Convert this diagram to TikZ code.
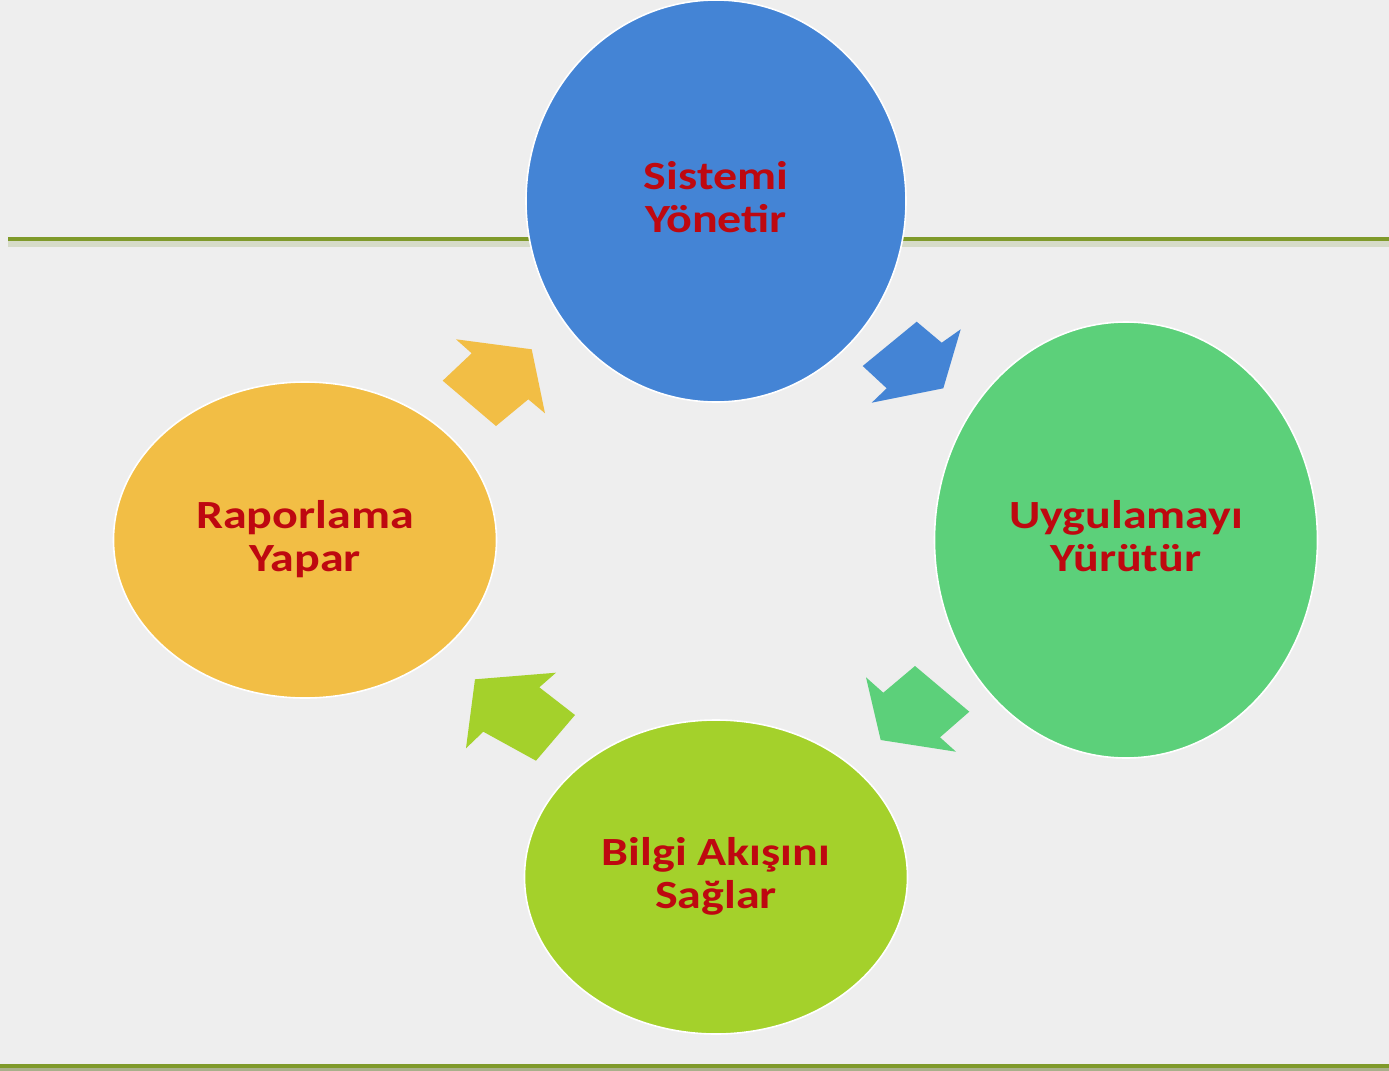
\documentclass[tikz,border=0pt]{standalone}
\usepackage{fontspec}
\newfontfamily\lblfont{Carlito}[FakeStretch=1.2]
\usetikzlibrary{shapes.geometric}
\definecolor{bgc}{RGB}{238,238,238}
\definecolor{linec}{RGB}{127,154,42}
\definecolor{shadc}{RGB}{214,219,200}
\definecolor{shadb}{RGB}{168,176,138}
\definecolor{bluec}{RGB}{68,132,213}
\definecolor{greenc}{RGB}{92,208,122}
\definecolor{limec}{RGB}{164,209,43}
\definecolor{orangec}{RGB}{242,190,69}
\definecolor{txtc}{RGB}{190,8,16}
\tikzset{
  bubble/.style={ellipse, inner sep=0pt, outer sep=0pt, draw=white, line width=0.8pt,
    align=center, text=txtc, text depth=4.5pt, font=\lblfont\bfseries\fontsize{20}{21.5}\selectfont},
  blockarrow/.style={line width=0pt}
}
\begin{document}
\begin{tikzpicture}[x=0.5pt,y=-0.5pt]
\useasboundingbox (0,0) rectangle (1389,1071);
\fill[bgc] (0,0) rectangle (1389,1071);
% horizontal rules
\fill[shadc] (8,240.5) rectangle (1389,247);
\fill[linec] (8,236.5) rectangle (1389,240.5);
\fill[shadb] (0,1067.5) rectangle (1389,1071);
\fill[linec] (0,1064) rectangle (1389,1067.5);
% bubbles
\node[bubble, fill=bluec, minimum width=190pt, minimum height=201pt] (sys) at (716,201) {Sistemi\\Yönetir};
\node[bubble, fill=greenc, minimum width=191.5pt, minimum height=218pt] (uyg) at (1126,540) {Uygulamayı\\Yürütür};
\node[bubble, fill=limec, minimum width=191.5pt, minimum height=157pt] (bil) at (716,877) {Bilgi Akışını\\Sağlar};
\node[bubble, fill=orangec, minimum width=191.5pt, minimum height=158pt] (rap) at (305,540) {Raporlama\\Yapar};
% block arrows
\fill[bluec, blockarrow] (916.7,321.7) -- (941.7,342.7) -- (960.7,329.3) -- (943.3,388.3) -- (871.7,402.7) -- (886.7,388.3) -- (862.7,366) -- cycle;
\fill[greenc, blockarrow] (866,677.3) -- (883.3,692.7) -- (915,666) -- (969.3,711.7) -- (940,737.3) -- (956,751.7) -- (880.7,740) -- cycle;
\fill[limec, blockarrow] (475,679.3) -- (556,672.7) -- (539.3,687.3) -- (575,715) -- (536,760.7) -- (483.3,731.7) -- (466,748.3) -- cycle;
\fill[orangec, blockarrow] (456,339.3) -- (531.7,349.3) -- (545,413.3) -- (528.3,399.3) -- (496,426) -- (442.7,380.7) -- (471.7,353.3) -- cycle;
\end{tikzpicture}
\end{document}
